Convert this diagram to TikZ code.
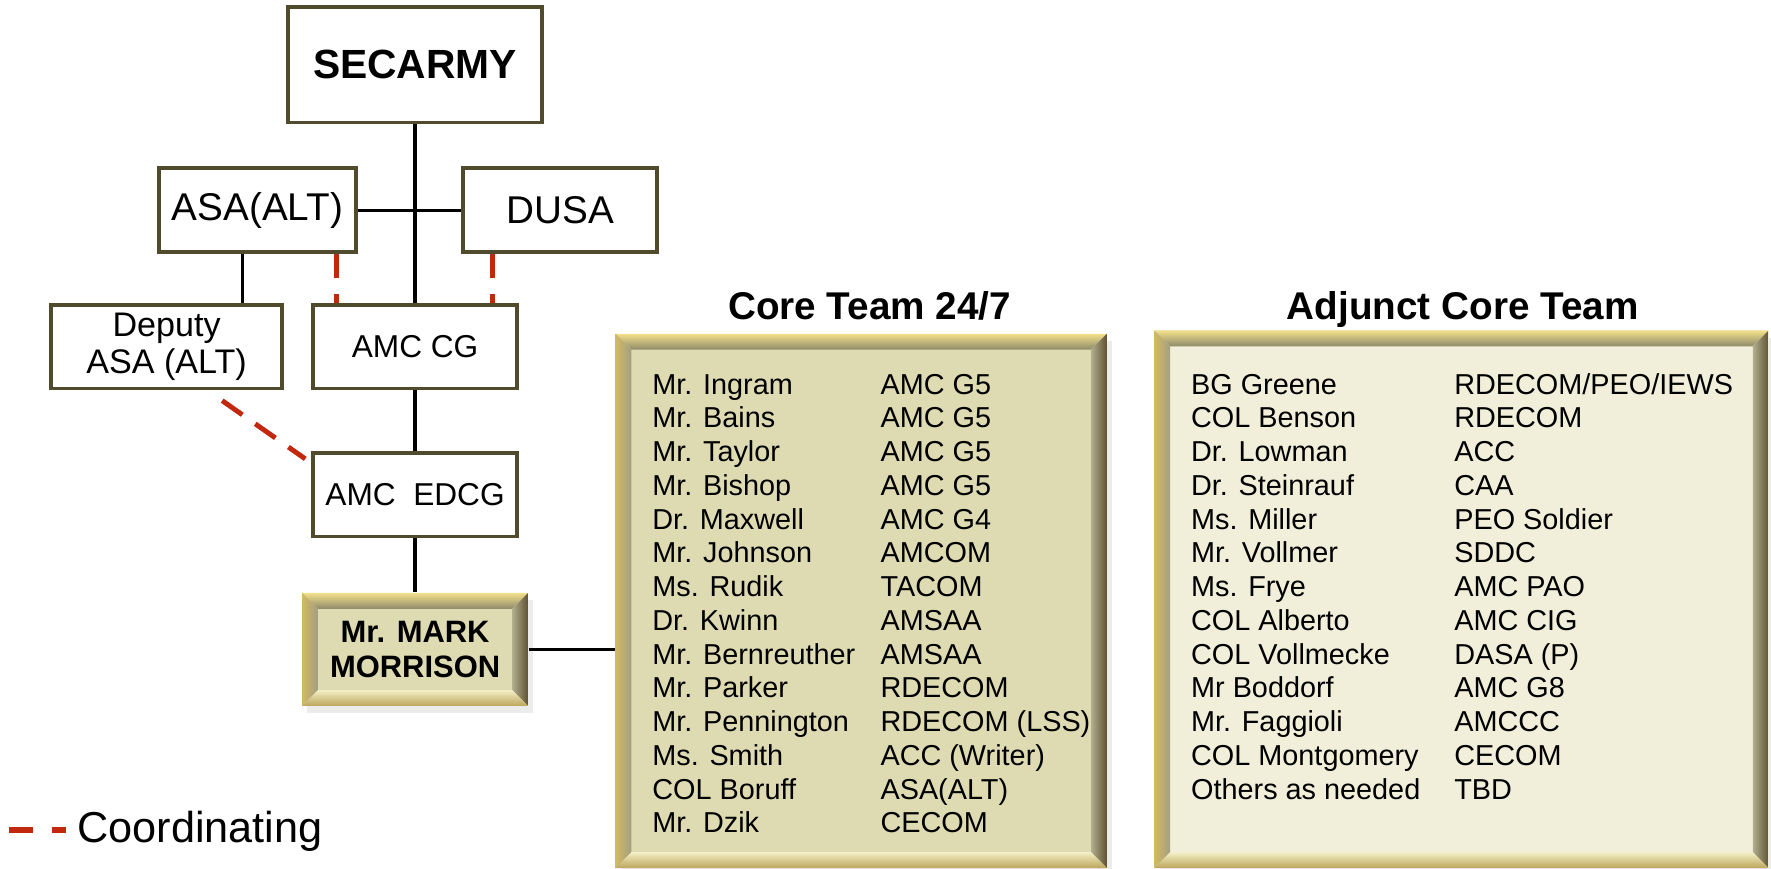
\documentclass[tikz,border=0pt]{standalone}
\usepackage{fontspec}
\setmainfont{Liberation Sans}
\usetikzlibrary{shadows}
\newcommand{\px}{0.011295cm}
\definecolor{boxline}{HTML}{504B2D}
\definecolor{coordred}{HTML}{C2280E}
\definecolor{coreface}{HTML}{DEDBB2}
\definecolor{adjface}{HTML}{F1EED9}
\definecolor{bevtop}{HTML}{F2E08A}
\definecolor{bevgray}{HTML}{8E8A6A}
\definecolor{bevgold}{HTML}{D2BA62}
\definecolor{bevleft}{HTML}{A29E82}
\definecolor{bevright}{HTML}{B2AE8E}
\definecolor{bevdark}{HTML}{5E5232}
\definecolor{bevcream}{HTML}{F4EFC6}
\definecolor{bevolive}{HTML}{BCA65C}
\begin{document}
\begin{tikzpicture}[x=\px, y=-\px,
    orgbox/.style={draw=boxline, line width=1.1pt, fill=white, inner sep=0pt, align=center},
    link/.style={line width=0.9pt},
    coord/.style={draw=coordred, line width=1.4pt, dash pattern=on 7pt off 4.5pt},
    bevelbox/.style={fill=#1, inner sep=0pt,
        drop shadow={shadow xshift=1.5pt, shadow yshift=-2pt, opacity=.15},
        path picture={
            \coordinate (bvA) at (path picture bounding box.north west);
            \coordinate (bvB) at (path picture bounding box.north east);
            \coordinate (bvC) at (path picture bounding box.south east);
            \coordinate (bvD) at (path picture bounding box.south west);
            \coordinate (bva) at ([xshift=4.5pt,yshift=-4.5pt]bvA);
            \coordinate (bvb) at ([xshift=-4.5pt,yshift=-4.5pt]bvB);
            \coordinate (bvc) at ([xshift=-4.5pt,yshift=4.5pt]bvC);
            \coordinate (bvd) at ([xshift=4.5pt,yshift=4.5pt]bvD);
            \shade[top color=bevtop, bottom color=bevgray] (bvA) -- (bvB) -- (bvb) -- (bva) -- cycle;
            \shade[left color=bevgold, right color=bevleft] (bvA) -- (bva) -- (bvd) -- (bvD) -- cycle;
            \shade[left color=bevright, right color=bevdark] (bvB) -- (bvC) -- (bvc) -- (bvb) -- cycle;
            \shade[top color=bevcream, bottom color=bevolive] (bvd) -- (bvc) -- (bvC) -- (bvD) -- cycle;
        }},
    rowtext/.style={anchor=base west, inner sep=0pt, font=\fontsize{8.2}{10}\selectfont},
    teamtitle/.style={anchor=base, inner sep=0pt, font=\bfseries\fontsize{11}{13}\selectfont}]

    \useasboundingbox (0,0) rectangle (1568,769);

    % chain of command
    \node[orgbox, minimum width=225*\px, minimum height=102*\px, font=\bfseries\fontsize{11.6}{14}\selectfont] (secarmy) at (367.5,57.5) {SECARMY};
    \node[orgbox, minimum width=174*\px, minimum height=74*\px, font=\fontsize{11}{13}\selectfont] (asa) at (228,186) {ASA(ALT)};
    \node[orgbox, minimum width=172*\px, minimum height=74*\px, font=\fontsize{11}{13}\selectfont] (dusa) at (496,186) {DUSA};
    \node[orgbox, minimum width=205*\px, minimum height=74*\px, font=\fontsize{9.7}{10.5}\selectfont] (deputy) at (147.5,307) {Deputy\\ASA (ALT)};
    \node[orgbox, minimum width=181*\px, minimum height=74*\px, font=\fontsize{9}{11}\selectfont] (amccg) at (367.5,307) {AMC CG};
    \node[orgbox, minimum width=181*\px, minimum height=74*\px, font=\fontsize{9}{11}\selectfont] (edcg) at (367.5,438) {AMC\ \ EDCG};
    \node[bevelbox=coreface, minimum width=200*\px, minimum height=100*\px, align=center, font=\bfseries\fontsize{8.8}{10.1}\selectfont] (mark) at (367.5,575) {Mr. MARK\\MORRISON};

    \draw[link] (secarmy.south) -- (amccg.north);
    \draw[link] (asa.east) -- (dusa.west);
    \draw[link] ([xshift=-13*\px]asa.south) -- ([xshift=-13*\px]asa.south |- deputy.north);
    \draw[link] (amccg.south) -- (edcg.north);
    \draw[link] (edcg.south) -- (mark.north);

    \draw[coord] ([xshift=-19*\px]asa.south east) -- ([xshift=-19*\px]asa.south east |- amccg.north);
    \draw[coord] ([xshift=28*\px]dusa.south west) -- ([xshift=28*\px]dusa.south west |- amccg.north);
    \draw[coord] ([xshift=-55*\px,yshift=-9*\px]deputy.south east) -- ([xshift=-5*\px,yshift=-7*\px]edcg.north west);

    % teams
    \node[bevelbox=coreface, minimum width=435*\px, minimum height=473*\px] (core) at (762.5,532) {};
    \node[bevelbox=adjface, minimum width=544*\px, minimum height=476*\px] (adjunct) at (1294,530.6) {};
    \node[teamtitle] (coretitle) at (770,283) {Core Team 24/7};
    \node[teamtitle] (adjtitle) at (1295,283) {Adjunct Core Team};

    \draw[link] (mark.east) -- (mark.east -| core.west);

    \foreach \nm/\org [count=\i from 0] in {Mr. Ingram/AMC G5, Mr. Bains/AMC G5,
        Mr. Taylor/AMC G5, Mr. Bishop/AMC G5, Dr. Maxwell/AMC G4, Mr. Johnson/AMCOM,
        Ms. Rudik/TACOM, Dr. Kwinn/AMSAA, Mr. Bernreuther/AMSAA, Mr. Parker/RDECOM,
        Mr. Pennington/RDECOM (LSS), Ms. Smith/ACC (Writer), COL Boruff/ASA(ALT),
        Mr. Dzik/CECOM}
    {
        \node[rowtext] (corenm\i) at (577,{349+29.87*\i}) {\nm};
        \node[rowtext] (coreorg\i) at (779,{349+29.87*\i}) {\org};
    }

    \foreach \nm/\org [count=\i from 0] in {BG Greene/{RDECOM/PEO/IEWS}, COL Benson/RDECOM,
        Dr. Lowman/ACC, Dr. Steinrauf/CAA, Ms. Miller/PEO Soldier, Mr. Vollmer/SDDC,
        Ms. Frye/AMC PAO, COL Alberto/AMC CIG, COL Vollmecke/DASA (P), Mr Boddorf/AMC G8,
        Mr. Faggioli/AMCCC, COL Montgomery/CECOM, Others as needed/TBD}
    {
        \node[rowtext] (adjnm\i) at (1054,{349+29.87*\i}) {\nm};
        \node[rowtext] (adjorg\i) at (1287,{349+29.87*\i}) {\org};
    }

    % legend
    \coordinate (legA) at (8,735);
    \coordinate (legB) at (58,735);
    \draw[coord, line width=1.8pt, dash pattern=on 6.7pt off 5.4pt] (legA) -- (legB);
    \node[anchor=base west, inner sep=0pt, font=\fontsize{12.3}{14}\selectfont] (legtext) at (68,746) {Coordinating};

\end{tikzpicture}
\end{document}
